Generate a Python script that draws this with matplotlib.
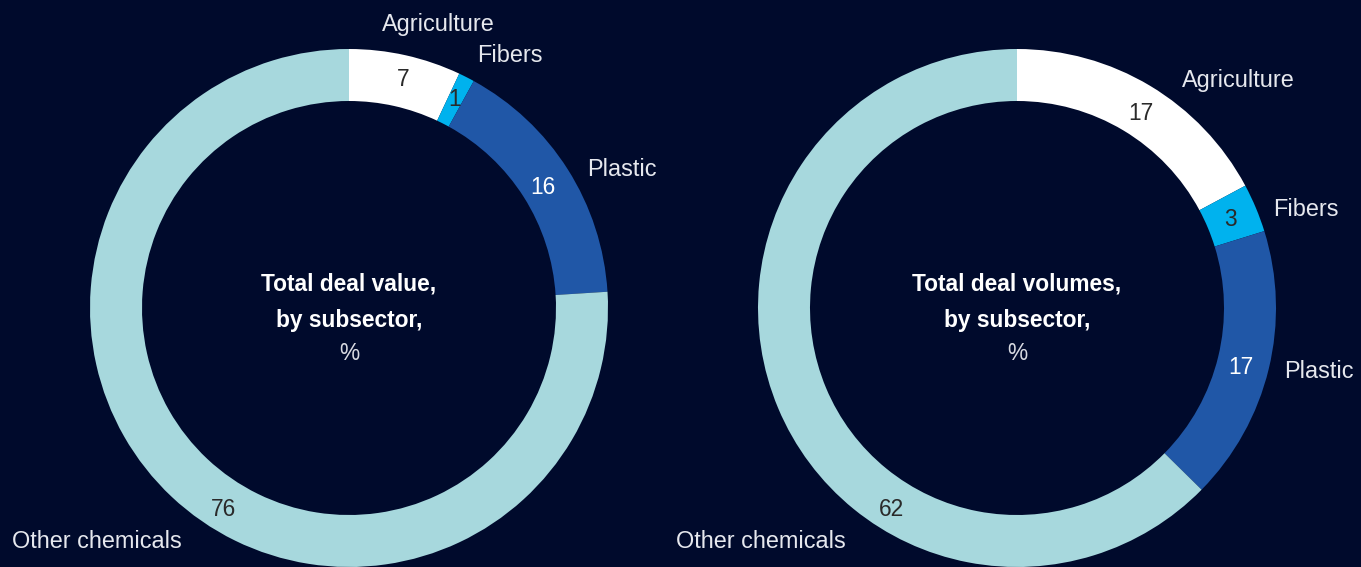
import matplotlib
matplotlib.use("Agg")
import matplotlib.pyplot as plt

# Deal shares by subsector, %
categories = ["Agriculture", "Fibers", "Plastic", "Other chemicals"]
deal_value = [7, 1, 16, 76]
deal_volume = [17, 3, 17, 62]

colors = ["#ffffff", "#00b2ee", "#2057a7", "#a7d8dd"]
value_text_colors = ["#2a2a2a", "#2a2a2a", "#ffffff", "#2a2a2a"]
bg = "#000a2c"
label_color = "#e6e8ee"

plt.rcParams["font.family"] = ["Liberation Sans", "DejaVu Sans"]

fig = plt.figure(figsize=(13.61, 5.67), dpi=100, facecolor=bg)
ax = fig.add_axes([0, 0, 1, 1])
ax.set_facecolor(bg)

R = 259
W = 52
panels = [
    dict(values=deal_value, center=(349, 259),
         title=["Total deal value,", "by subsector,"],
         value_pos=[(403, 487), (455, 467), (543, 380), (224, 57)],
         label_pos=[(438, 543, "center"), (510, 511, "center"),
                    (587, 397, "left"), (12, 26, "left")]),
    dict(values=deal_volume, center=(1017, 259),
         title=["Total deal volumes,", "by subsector,"],
         value_pos=[(1141, 454), (1231, 347), (1241, 199), (892, 57)],
         label_pos=[(1238, 487, "center"), (1273, 357, "left"),
                    (1284, 195, "left"), (676, 26, "left")]),
]

for p in panels:
    ax.pie(p["values"], colors=colors, startangle=90, counterclock=False,
           center=p["center"], radius=R,
           wedgeprops=dict(width=W, edgecolor="none", linewidth=0))
    cx, cy = p["center"]
    ax.text(cx, cy + 24, p["title"][0], ha="center", va="center",
            fontsize=16.4, fontweight="bold", color="#ffffff")
    ax.text(cx, cy - 12, p["title"][1], ha="center", va="center",
            fontsize=16.4, fontweight="bold", color="#ffffff")
    ax.text(cx, cy - 45, "%", ha="center", va="center",
            fontsize=16.4, color="#d8dae2")
    for v, (x, y), tc in zip(p["values"], p["value_pos"], value_text_colors):
        ax.text(x, y, str(v), ha="center", va="center", fontsize=16.4, color=tc)
    for name, (x, y, ha) in zip(categories, p["label_pos"]):
        ax.text(x, y, name, ha=ha, va="center", fontsize=16.9, color=label_color)

ax.set_xlim(0, 1361)
ax.set_ylim(0, 567)
ax.set_aspect("equal")
ax.axis("off")

fig.savefig("out.png", dpi=100, facecolor=bg)
